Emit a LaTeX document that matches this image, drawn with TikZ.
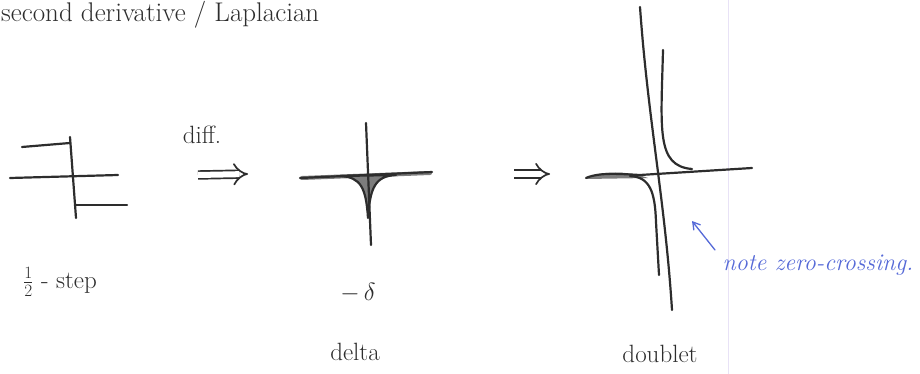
\documentclass[tikz,border=0pt]{standalone}
\usepackage{fontspec}
\usetikzlibrary{arrows.meta,positioning}
\definecolor{inkgray}{RGB}{45,45,45}
\definecolor{pencil}{RGB}{125,125,125}
\definecolor{bluepen}{RGB}{85,105,215}
\definecolor{marginline}{RGB}{232,226,246}
\tikzset{
  pen/.style={draw=inkgray, line width=2.2pt, line cap=round, line join=round},
  lobe/.style={pen, fill=pencil},
  implies/.style={draw=inkgray, line width=1.7pt, double, double distance=6pt, -{Implies}},
  hand/.style={font=\fontsize{25}{28}\selectfont, text=inkgray, inner sep=1pt},
  note/.style={font=\fontsize{24}{28}\selectfont\itshape, text=bluepen, inner sep=1pt},
  notearrow/.style={draw=bluepen, line width=1.3pt, line cap=round, -{Straight Barb[length=2.5mm, width=3mm]}}
}

\begin{document}
\begin{tikzpicture}[x=1pt, y=-1pt]
\useasboundingbox (0,0) rectangle (920,374);
\draw[marginline, line width=1pt] (728,0) -- (728,374);

\node[hand, anchor=north west, font=\fontsize{27}{30}\selectfont] (title) at (0,0) {second derivative / Laplacian};

% half step
\draw[pen] (22,147) -- (70,143);
\draw[pen] (70,137) -- (76,218);
\draw[pen] (10,178) -- (118,175);
\draw[pen] (76,205) -- (127,205);
\node[hand] (steplbl) at (60,282) {$\frac{1}{2}$ - step};

\coordinate (a1) at (198,175);
\coordinate (a2) at (248,174);
\draw[implies] (a1) -- (a2);
\node[hand, above=30pt of a1, xshift=4pt] (diff) {diff.};

% delta
\draw[pen, line width=4pt, pencil] (302,178) -- (430,173);
\draw[pen] (300,178) -- (432,172);
\draw[lobe] (340,176) .. controls (361,177) and (366,188) .. (368,218)
  .. controls (370,188) and (375,176) .. (396,175) -- cycle;
\draw[pen] (366,123) -- (371,245);
\node[hand] (mdelta) at (358,293) {$-\,\delta$};
\node[hand] (deltalbl) at (355,352) {delta};

\coordinate (b1) at (514,174);
\coordinate (b2) at (550,174);
\draw[implies] (b1) -- (b2);

% doublet
\fill[pencil] (586,179) .. controls (600,170) and (630,171) .. (648,178) -- cycle;
\draw[pen] (586,178) .. controls (600,172) and (620,174) .. (640,175) -- (752,168);
\draw[pen] (630,176) .. controls (650,177) and (655,192) .. (656,222) -- (659,275);
\draw[pen] (663,50) .. controls (661,130) and (656,166) .. (692,169);
\draw[pen] (640,7) .. controls (648,120) and (665,200) .. (672,310);
\node[hand] (doubletlbl) at (660,354) {doublet};

% annotation
\node[note] (zerocross) at (818,265) {note zero-crossing.};
\coordinate (tailzc) at (715,250);
\coordinate (tipzc) at (692,221);
\draw[notearrow] (tailzc) -- (tipzc);
\end{tikzpicture}
\end{document}
